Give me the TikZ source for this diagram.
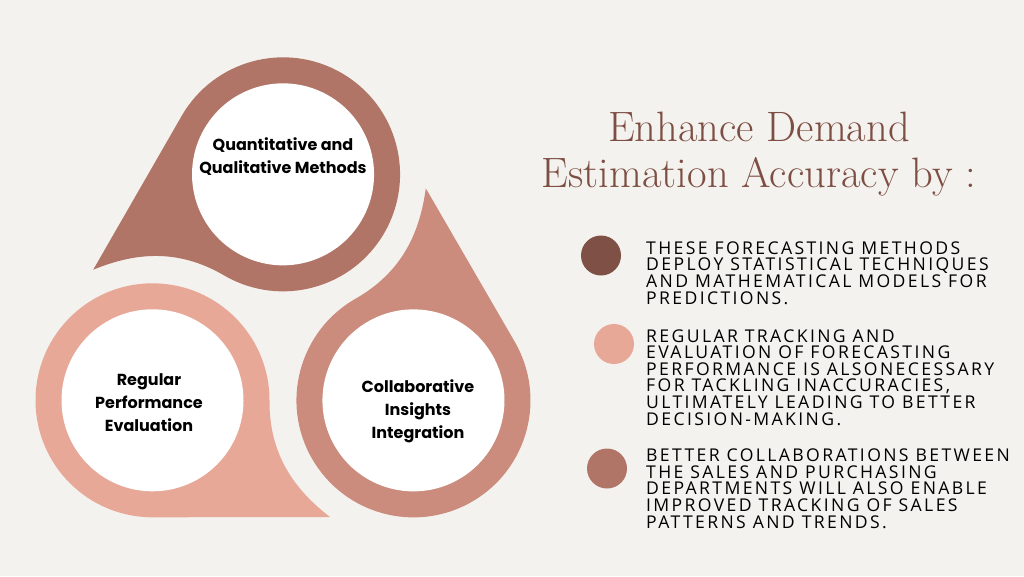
\documentclass[tikz,border=0pt]{standalone}
\usepackage{fontspec}
\newfontfamily\labelfont{Poppins}
\newfontfamily\bodyfont{Open Sans}[LetterSpace=13.5]
\definecolor{bg}{HTML}{F4F2EE}
\definecolor{cT}{HTML}{B07566}
\definecolor{cR}{HTML}{CB8C7D}
\definecolor{cL}{HTML}{E8A898}
\definecolor{cD}{HTML}{7E5046}
\definecolor{ttl}{HTML}{7D4E43}
\tikzset{
  lbl/.style={font=\labelfont\bfseries\fontsize{16}{23}\selectfont, align=center, inner sep=0pt, text=black},
  body/.style={font=\bodyfont\fontsize{17.6}{16.6}\selectfont, align=left, inner sep=0pt, text=black},
  dot/.style={circle, minimum size=40pt, inner sep=0pt},
  ttlstyle/.style={font=\fontsize{42.5}{46}\selectfont, align=center, inner sep=0pt, text=ttl}
}
\begin{document}
\begin{tikzpicture}[x=1pt,y=-1pt]
\useasboundingbox (0,0) rectangle (1024,576);
\fill[bg] (0,0) rectangle (1024,576);
\foreach \ang/\col in {0/cL,120/cR,240/cT}{
  \begin{scope}[shift={(283,325)},rotate=\ang,shift={(-130.5,75.3)}]
    \fill[\col] (0,117) -- (177.5,116.7) .. controls (142.5,89.7) and (116.5,54.7) .. (117,0)
      arc[start angle=0,end angle=270,radius=117pt] -- cycle;
    \fill[white] (0,0) circle[radius=91pt];
  \end{scope}
}
\node[lbl, anchor=base] (q) at (283,173.3) {Quantitative and\\Qualitative Methods};
\node[lbl, anchor=base] (c) at (418,438) {Collaborative\\Insights\\Integration};
\node[lbl, anchor=base] (r) at (149,431) {Regular\\Performance\\Evaluation};
\node[ttlstyle, anchor=base] (title) at (759,187) {Enhance Demand\\Estimation Accuracy by :};
\node[dot, fill=cD] (b1) at (601,255.5) {};
\node[dot, fill=cL] (b2) at (614,344) {};
\node[dot, fill=cT] (b3) at (607,468.5) {};
\node[body, anchor=base west] (t1) at (646,304) {THESE FORECASTING METHODS\\DEPLOY STATISTICAL TECHNIQUES\\AND MATHEMATICAL MODELS FOR\\PREDICTIONS.};
\node[body, anchor=base west] (t2) at (646,425) {REGULAR TRACKING AND\\EVALUATION OF FORECASTING\\PERFORMANCE IS ALSONECESSARY\\FOR TACKLING INACCURACIES,\\ULTIMATELY LEADING TO BETTER\\DECISION-MAKING.};
\node[body, anchor=base west] (t3) at (646,528) {BETTER COLLABORATIONS BETWEEN\\THE SALES AND PURCHASING\\DEPARTMENTS WILL ALSO ENABLE\\IMPROVED TRACKING OF SALES\\PATTERNS AND TRENDS.};
\end{tikzpicture}
\end{document}
